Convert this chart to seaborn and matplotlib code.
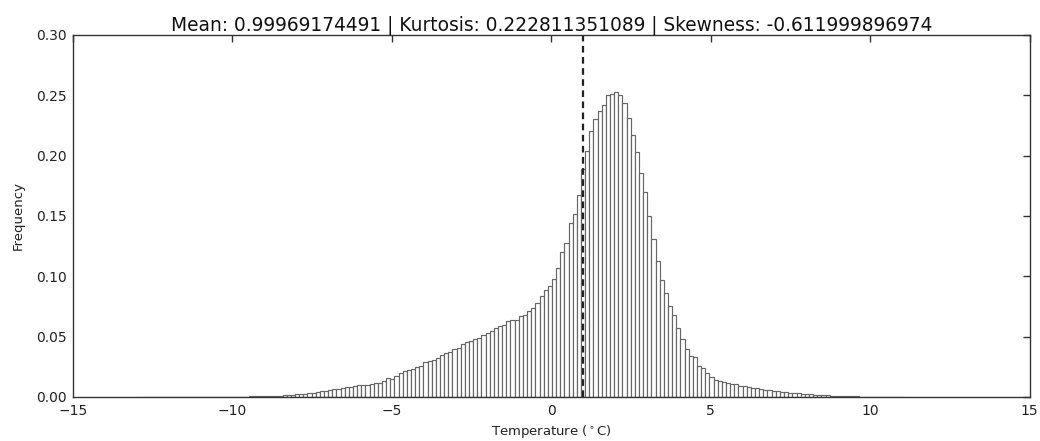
import numpy as np
import pandas as pd
import matplotlib
matplotlib.use("Agg")
import matplotlib.pyplot as plt
import seaborn as sns

# ---- data ----
bin_start = -12.98      # left edge of first bin (°C)
bin_width = 0.13        # bin width (°C)
frequency = [
    # -12.98 .. -9.08
    0.0003, 0.0001, 0.0, 0.0, 0.0001, 0.0, 0.0, 0.0001, 0.0, 0.0001,
    0.0001, 0.0, 0.0001, 0.0001, 0.0001, 0.0001, 0.0001, 0.0002, 0.0001, 0.0002,
    0.0002, 0.0002, 0.0003, 0.0003, 0.0003, 0.0004, 0.0004, 0.0005, 0.0005, 0.0006,
    # -9.08 ..
    0.0007, 0.0008, 0.0009, 0.0010, 0.0012, 0.0014, 0.0016, 0.0018, 0.0021, 0.0024,
    0.0027, 0.0031, 0.0035, 0.0040, 0.0046, 0.0051, 0.0058, 0.0066, 0.0070, 0.0074,
    0.0079, 0.0085, 0.0090, 0.0096, 0.0100, 0.0100, 0.0104, 0.0115, 0.0118, 0.0130,
    0.0160, 0.0150, 0.0173, 0.0195, 0.0215, 0.0220, 0.0234, 0.0250, 0.0260, 0.0290,
    0.0300, 0.0306, 0.0326, 0.0345, 0.0367, 0.0370, 0.0395, 0.0410, 0.0436, 0.0456,
    0.0460, 0.0480, 0.0490, 0.0510, 0.0530, 0.0550, 0.0575, 0.0590, 0.0600, 0.0630,
    0.0640, 0.0640, 0.0670, 0.0680, 0.0710, 0.0740, 0.0780, 0.0840, 0.0890, 0.0920,
    0.0980, 0.1070, 0.1200, 0.1280, 0.1440, 0.1520, 0.1670, 0.1890, 0.2040, 0.2200,
    0.2300, 0.2370, 0.2420, 0.2500, 0.2510, 0.2530, 0.2500, 0.2440, 0.2310, 0.2170,
    0.2030, 0.1860, 0.1700, 0.1500, 0.1310, 0.1130, 0.0970, 0.0860, 0.0750, 0.0680,
    0.0570, 0.0480, 0.0400, 0.0340, 0.0330, 0.0260, 0.0240, 0.0200, 0.0165, 0.0140,
    0.0130, 0.0125, 0.0120, 0.0110, 0.0105, 0.0095, 0.0090, 0.0085, 0.0078, 0.0072,
    0.0068, 0.0062, 0.0056, 0.0052, 0.0048, 0.0044, 0.0040, 0.0036, 0.0033, 0.0030,
    0.0027, 0.0024, 0.0021, 0.0019, 0.0017, 0.0015, 0.0013, 0.0011, 0.0010, 0.0009,
    0.0008, 0.0007, 0.0006, 0.0005, 0.0004, 0.0004, 0.0003, 0.0003, 0.0002, 0.0002,
    0.0001, 0.0001, 0.0001, 0.0, 0.0,
]
mean_value = 0.99969174491
kurtosis_value = "0.222811351089"
skewness_value = "-0.611999896974"
x_ticks = [-15, -10, -5, 0, 5, 10, 15]
y_ticks = [0.00, 0.05, 0.10, 0.15, 0.20, 0.25, 0.30]

edges = bin_start + bin_width * np.arange(len(frequency) + 1)
centers = (edges[:-1] + edges[1:]) / 2
df = pd.DataFrame({"temperature": centers, "frequency": frequency})

sns.set_style("white")
plt.rcParams["font.family"] = ["DejaVu Sans"]

fig = plt.figure(figsize=(10.4, 4.41), dpi=100)
ax = fig.add_axes([0.0702, 0.0998, 0.9198, 0.8210])

sns.histplot(data=df, x="temperature", weights="frequency", bins=edges.tolist(),
             stat="count", color="white", edgecolor="#666666", linewidth=0.85,
             alpha=1.0, ax=ax)
ax.axvline(mean_value, color="#222222", linestyle="--", linewidth=1.6,
           dashes=(3, 2))

ax.set_xlim(-15, 15)
ax.set_ylim(0, 0.30)
ax.set_xticks(x_ticks)
ax.set_yticks(y_ticks)
ax.set_yticklabels([f"{v:.2f}" for v in y_ticks])
ax.tick_params(direction="in", top=True, right=True, length=5, width=1,
               colors="#333333", labelsize=10, labelcolor="#222222")
ax.tick_params(axis="x", pad=5)
ax.tick_params(axis="y", pad=4.5)
for s in ax.spines.values():
    s.set_color("#333333")
    s.set_linewidth(1.0)

ax.set_xlabel("Temperature ($^\\circ$C)", fontsize=9.5, color="#222222", labelpad=4)
ax.set_ylabel("Frequency", fontsize=9.5, color="#222222", labelpad=8)
ax.set_title(f"Mean: {mean_value} | Kurtosis: {kurtosis_value} | Skewness: {skewness_value}",
             fontsize=13.4, color="#111111", pad=3)

fig.savefig("out.png", dpi=100)
